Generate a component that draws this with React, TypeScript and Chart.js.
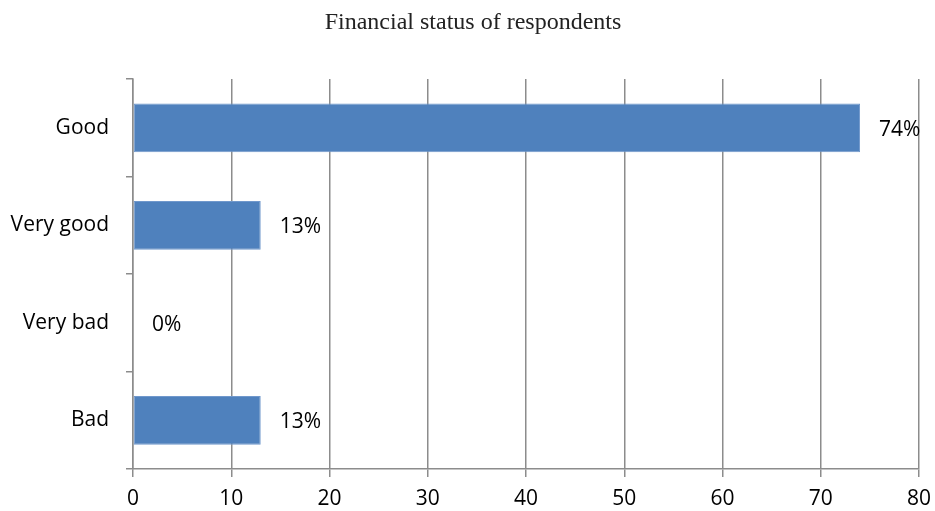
import React, { useEffect, useRef } from "react";
import { Chart, registerables } from "chart.js";

Chart.register(...registerables);

const title = "Financial status of respondents";
const categories = ["Good", "Very good", "Very bad", "Bad"];
const values = [74, 13, 0, 13];
const valueLabels = ["74%", "13%", "0%", "13%"];
const xTicks = [0, 10, 20, 30, 40, 50, 60, 70, 80];

const GRID = "#8c8c8c";
const LABEL_FONT = "'Open Sans', sans-serif";

export default function App() {
  const ref = useRef<HTMLCanvasElement | null>(null);
  useEffect(() => {
    document.body.style.margin = "0";
    const ctx = ref.current!;
    const titlePlugin = {
      id: "titleText",
      afterDraw(chart: any) {
        const c = chart.ctx;
        c.save();
        c.font = "24px 'Liberation Serif', 'Times New Roman', serif";
        c.fillStyle = "#222";
        c.textAlign = "center";
        c.textBaseline = "middle";
        c.fillText(title, 473, 23);
        c.restore();
      },
    };
    const labelPlugin = {
      id: "valueLabels",
      afterDatasetsDraw(chart: any) {
        const c = chart.ctx;
        const meta = chart.getDatasetMeta(0);
        c.save();
        c.font = "21px " + LABEL_FONT;
        c.fillStyle = "#000";
        c.textAlign = "left";
        c.textBaseline = "middle";
        meta.data.forEach((el: any, i: number) => {
          c.fillText(valueLabels[i], el.x + 19, el.y + 2);
        });
        c.restore();
      },
    };
    const chart = new Chart(ctx, {
      type: "bar",
      data: {
        labels: categories,
        datasets: [
          {
            data: values,
            backgroundColor: "#4F81BD",
            borderColor: "#7098cc",
            borderWidth: 1,
            borderSkipped: false,
            barPercentage: 0.5,
            categoryPercentage: 1,
          },
        ],
      },
      options: {
        indexAxis: "y",
        animation: false,
        responsive: false,
        maintainAspectRatio: false,
        layout: { padding: { top: 79, right: 16, left: 0, bottom: 0 } },
        plugins: {
          legend: { display: false },
          tooltip: { enabled: false },
          title: { display: false },
        },
        scales: {
          x: {
            min: 0,
            max: 80,
            afterBuildTicks(axis: any) {
              axis.ticks = xTicks.map((v) => ({ value: v }));
            },
            afterFit(axis: any) {
              axis.height = 42;
              axis.paddingLeft = 0;
              axis.paddingRight = 0;
            },
            grid: {
              color: GRID,
              lineWidth: 1.5,
              drawTicks: true,
              tickLength: 8,
              tickColor: GRID,
            },
            border: { display: true, color: GRID, width: 1.5 },
            ticks: {
              color: "#000",
              padding: 9,
              font: { size: 21, family: LABEL_FONT },
              maxRotation: 0,
            },
          },
          y: {
            afterFit(axis: any) {
              axis.width = 133;
              axis.paddingTop = 0;
              axis.paddingBottom = 0;
            },
            grid: {
              drawOnChartArea: false,
              drawTicks: true,
              tickLength: 7,
              color: GRID,
              lineWidth: 1.5,
              offset: true,
            },
            border: { display: true, color: GRID, width: 1.5 },
            ticks: {
              color: "#000",
              padding: 17,
              font: { size: 21, family: LABEL_FONT },
            },
          },
        },
      },
      plugins: [titlePlugin, labelPlugin],
    });
    return () => chart.destroy();
  }, []);
  return (
    <div style={{ width: 935, height: 511, position: "relative" }}>
      <canvas ref={ref} width={935} height={511} style={{ display: "block" }} />
    </div>
  );
}
